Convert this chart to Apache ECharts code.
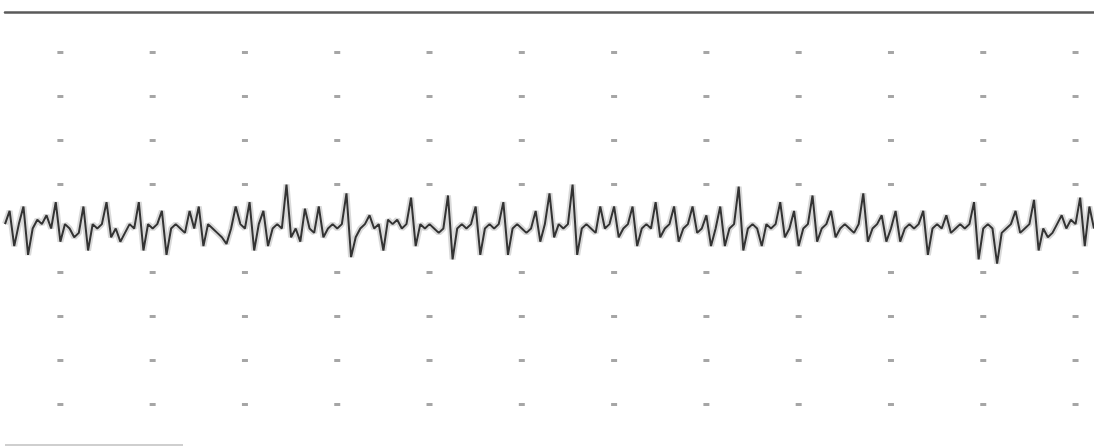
<!DOCTYPE html>
<html>
<head>
<meta charset="utf-8">
<script src="https://cdn.jsdelivr.net/npm/echarts@6/dist/echarts.min.js"></script>
<style>html,body{margin:0;padding:0;background:#fff;}#c{width:1094px;height:447px;}</style>
</head>
<body>
<div id="c"></div>
<script>
// Grid dot positions (x columns, y rows)
const dotCols = [0, 10, 20, 30, 40, 50, 60, 70, 80, 90, 100, 110];
const dotRows = [-40, -30, -20, -10, 10, 20, 30, 40];
// Signal samples: x starts at -6, one sample every 0.5 units
const signalStart = -6;
const signalStep = 0.5;
const signal = [
  1,4,-4,1,5,-6,0,2,1,3,0,6,-3,1,0,-2,-1,5,-5,1,
  0,1,6,-2,0,-3,-1,1,0,6,-5,1,0,1,4,-6,0,1,0,-1,
  4,0,5,-4,1,0,-1,-2,-3.5,0,5,1,0,6,-5,1,4,-4,0,1,
  0,10,-2,0,-3,4.5,0,-1,5,-2,0,1,0,1,8,-6.5,-2,0,1,3,
  0,1,-5,2,1,2,0,1,7,-4,1,0,1,0,-1,0,7.5,-7,0,1,
  0,1,5,-6,0,1,0,1,6,-6,0,1,0,-1,0,4,-3,1,8,-2,
  1,0,1,10,-6,0,1,0,-1,5,0,1,5,-2,0,1,5,-4,0,1,
  0,6,-2,0,1,5,-3,0,1,5,-1,0,3,-4,0,5,-4,0,1,9.5,
  -5,0,1,0,-4,1,0,1,6,-2,0,4,-4,0,1,7.5,-3,0,1,4,
  -2,0,1,0,-1,1,8,-3,0,1,3,-3,0,4,-3,0,1,0,1,4,
  -6,0,1,0,3,-1,0,1,0,1,6,-7,0,1,0,-8,-1,0,1,4,
  -1,0,1,6.5,-5,0,-2,-1,1,3,0,2,1,7,-4,5,0
];

const dots = [];
dotCols.forEach(c => dotRows.forEach(r => dots.push([c, r])));
const signalData = signal.map((v, i) => [signalStart + i * signalStep, v]);

const chart = echarts.init(document.getElementById('c'), null, {renderer: 'canvas'});
chart.setOption({
  animation: false,
  backgroundColor: '#ffffff',
  grid: {left: 5, right: 0, top: 12, bottom: 2},
  xAxis: {
    type: 'value', position: 'top', min: -6, max: 112,
    axisLine: {show: true, onZero: false, lineStyle: {color: '#5a5a5a', width: 2.5}},
    axisTick: {show: false}, axisLabel: {show: false}, splitLine: {show: false}
  },
  yAxis: {
    type: 'value', min: -49.2, max: 49.2,
    axisLine: {show: false}, axisTick: {show: false}, axisLabel: {show: false}, splitLine: {show: false}
  },
  graphic: [{
    type: 'line', shape: {x1: 5, y1: 445, x2: 183, y2: 445},
    style: {stroke: '#cfcfcf', lineWidth: 2}
  }],
  series: [
    {
      type: 'scatter', data: dots, symbol: 'rect', symbolSize: [6, 3],
      itemStyle: {color: '#909090'}, silent: true
    },
    {
      type: 'line', data: signalData, showSymbol: false,
      lineStyle: {color: '#aaaaaa', width: 6, opacity: 0.45}, silent: true
    },
    {
      type: 'line', data: signalData, showSymbol: false,
      lineStyle: {color: '#333333', width: 2}, silent: true
    }
  ]
});
</script>
</body>
</html>
